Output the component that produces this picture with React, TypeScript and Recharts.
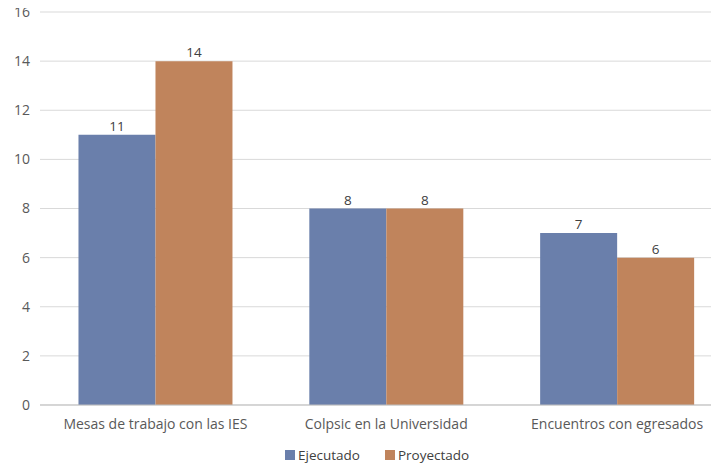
import React from "react";
import { BarChart, Bar, XAxis, YAxis, CartesianGrid, Legend, LabelList } from "recharts";

const categories = ["Mesas de trabajo con las IES", "Colpsic en la Universidad", "Encuentros con egresados"];
const ejecutado = [11, 8, 7];
const proyectado = [14, 8, 6];
const yTicks = [0, 2, 4, 6, 8, 10, 12, 14, 16];

const data = categories.map((name, i) => ({ name, Ejecutado: ejecutado[i], Proyectado: proyectado[i] }));

const BLUE = "#6a7fab";
const ORANGE = "#c0845c";
const FONT = "'Open Sans', 'DejaVu Sans', sans-serif";

const LegendContent = () => (
  <div style={{ display: "flex", justifyContent: "flex-start", fontFamily: FONT, fontSize: 13.5, color: "#404040", paddingLeft: 285, paddingTop: 11 }}>
    {[["Ejecutado", BLUE], ["Proyectado", ORANGE]].map(([label, color]) => (
      <div key={label} style={{ display: "flex", alignItems: "center", marginRight: 25 }}>
        <span style={{ display: "inline-block", width: 10, height: 10, background: color, marginRight: 3 }} />
        <span>{label}</span>
      </div>
    ))}
  </div>
);

export default function App() {
  return (
    <div style={{ width: 719, height: 464, margin: "-8px 0 0 -8px", overflow: "hidden", background: "#fff", position: "relative" }}>
      <BarChart
        width={745}
        height={464}
        data={data}
        margin={{ top: 12, right: 12.5, left: 0, bottom: 0 }}
        barCategoryGap="16.67%"
        barGap={0}
        style={{ fontFamily: FONT }}
      >
        <CartesianGrid vertical={false} stroke="#d9d9d9" />
        <XAxis
          dataKey="name"
          height={30}
          tickLine={false}
          axisLine={{ stroke: "#bfbfbf" }}
          tick={{ fill: "#595959", fontSize: 14 }}
          tickMargin={8}
          interval={0}
        />
        <YAxis
          width={40}
          domain={[0, 16]}
          ticks={yTicks}
          tickLine={false}
          axisLine={false}
          tick={{ fill: "#595959", fontSize: 14 }}
          tickMargin={4}
        />
        <Legend verticalAlign="bottom" height={29} content={<LegendContent />} />
        <Bar dataKey="Ejecutado" fill={BLUE} isAnimationActive={false}>
          <LabelList dataKey="Ejecutado" position="top" fill="#404040" fontSize={13.5} offset={4} />
        </Bar>
        <Bar dataKey="Proyectado" fill={ORANGE} isAnimationActive={false}>
          <LabelList dataKey="Proyectado" position="top" fill="#404040" fontSize={13.5} offset={4} />
        </Bar>
      </BarChart>
    </div>
  );
}
